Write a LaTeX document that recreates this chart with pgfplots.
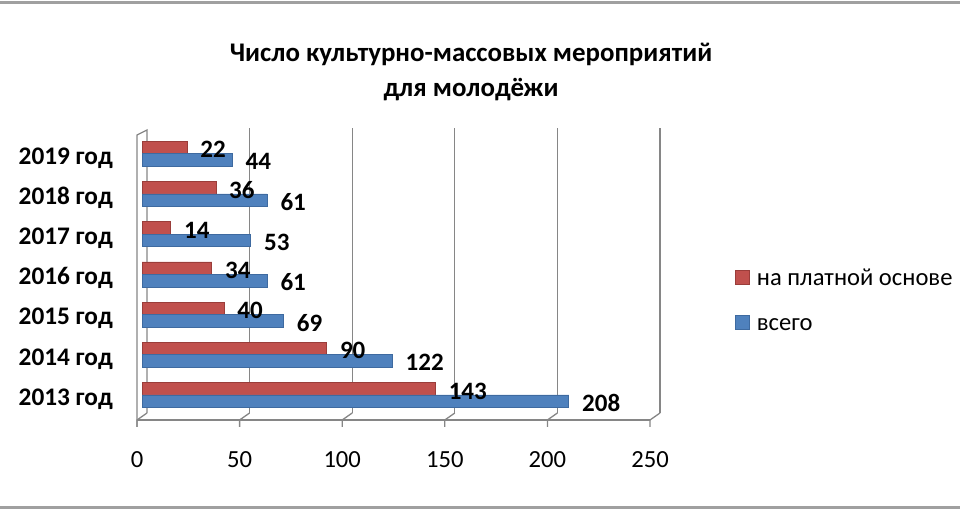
\documentclass[border=0pt]{standalone}
\usepackage{fontspec}
\setmainfont{Carlito}
\usepackage{pgfplots}
\pgfplotsset{compat=1.18}
\definecolor{redbar}{HTML}{C0504D}
\definecolor{bluebar}{HTML}{4F81BD}
\definecolor{rededge}{HTML}{9A3D3A}
\definecolor{blueedge}{HTML}{3E6AA0}
\definecolor{gridc}{HTML}{868686}
\definecolor{framec}{HTML}{A0A0A0}
\begin{document}
\begin{tikzpicture}
\begin{scope}[x=1bp,y=1bp]
\path[use as bounding box] (0,0) rectangle (960,510);
\draw[framec, line width=2.2bp] (0,507.5) -- (960,507.5);
\draw[framec, line width=2.2bp] (0,2.5) -- (960,2.5);
% title
\node[anchor=base, font=\bfseries\fontsize{26.9bp}{30bp}\selectfont, inner sep=0] at (471,448.3) {Число культурно-массовых мероприятий};
\node[anchor=base, font=\bfseries\fontsize{26.9bp}{30bp}\selectfont, inner sep=0] at (471,413.3) {для молодёжи};
% walls and floor
\draw[gridc, line width=1.3bp] (147,97) -- (147,380) -- (137,375) -- (137,83);
\draw[gridc, line width=1.3bp] (137,90) -- (650,90);
\foreach \i in {0,...,5}{
  \draw[gridc, line width=1.3bp] (137+102.6*\i,83) -- (137+102.6*\i,90) -- (147+102.6*\i,97);
}
\end{scope}
% back wall with grid
\begin{axis}[at={(147bp,97bp)}, anchor=south west, scale only axis,
  width=513bp, height=285bp, xmin=0, xmax=250, ymin=0, ymax=1,
  xtick={50,100,...,250}, ytick=\empty, xticklabels={},
  xmajorgrids, grid style={gridc, line width=1.3bp},
  axis line style={draw=none}, major tick length=0pt]
\end{axis}
% data axis
\begin{axis}[at={(142bp,92.9bp)}, anchor=south west, scale only axis,
  width=513bp, height=283.4bp, xmin=0, xmax=250, ymin=-0.55, ymax=6.5,
  axis line style={draw=none}, major tick length=0pt,
  xtick={0,50,...,250},
  xticklabel style={anchor=center, xshift=-5bp, yshift=-43bp, font=\fontsize{24.6bp}{28bp}\selectfont},
  /pgf/number format/assume math mode=true,
  ytick={0,...,6},
  yticklabels={2013 год,2014 год,2015 год,2016 год,2017 год\hspace{6bp},2018 год,2019 год},
  yticklabel style={anchor=east, inner sep=0pt, xshift=-29bp, yshift=-4bp, font=\bfseries\fontsize{25.3bp}{28bp}\selectfont},
  bar width=12.5bp,
  point meta=x,
  nodes near coords,
  every node near coord/.style={anchor=west, inner sep=0pt, xshift=13bp, font=\bfseries\fontsize{25bp}{28bp}\selectfont, text=black},
  legend image code/.code={\fill[#1] (0bp,-5bp) rectangle (14bp,9bp);},
  legend style={at={(1.1559,0.5226)}, anchor=north west, draw=none, fill=none, inner sep=0pt,
    font=\fontsize{24.6bp}{28bp}\selectfont, row sep=24bp,
    nodes={inner sep=0pt, text height=16bp, text depth=5bp},
    /tikz/every odd column/.append style={column sep=7bp}},
  legend cell align=left,
  clip=false]
\addplot[xbar, bar shift=6.25bp, fill=redbar, draw=rededge, line width=0.7bp,
  every node near coord/.append style={yshift=4bp}]
  coordinates {(143,0) (90,1) (40,2) (34,3) (14,4) (36,5) (22,6)};
\addlegendentry{на платной основе}
\addplot[xbar, bar shift=-6.25bp, fill=bluebar, draw=blueedge, line width=0.7bp,
  every node near coord/.append style={yshift=-8bp}]
  coordinates {(208,0) (122,1) (69,2) (61,3) (53,4) (61,5) (44,6)};
\addlegendentry{всего}
\end{axis}
\end{tikzpicture}
\end{document}
